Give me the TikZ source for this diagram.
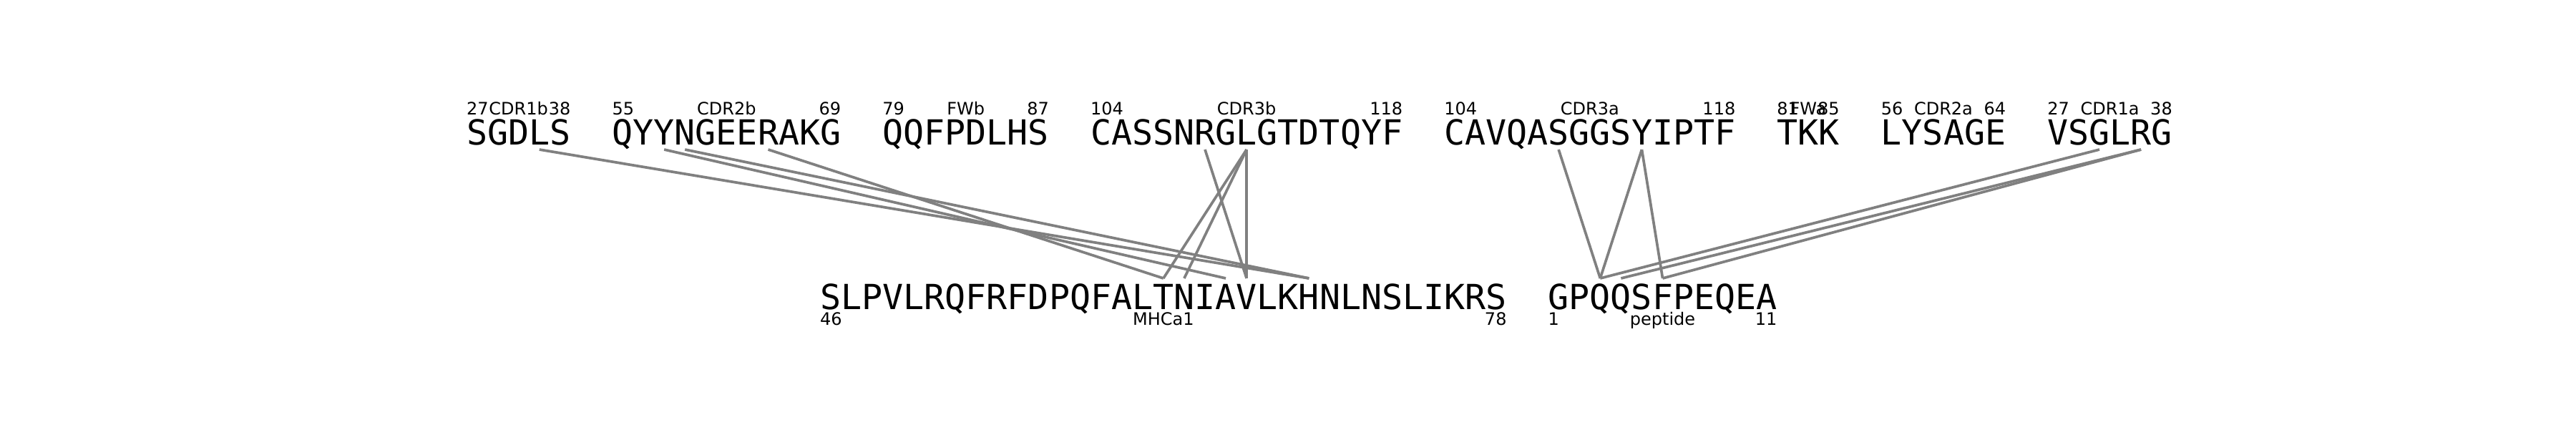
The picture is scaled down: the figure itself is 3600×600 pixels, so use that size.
\documentclass[tikz,border=0pt]{standalone}
\usepackage{fontspec}
\setmainfont{DejaVu Sans}
\newfontfamily\seqfont{DejaVu Sans Mono}
\def\xo{652}
\def\px{29.07}
\tikzset{
  seq/.style={anchor=base west, inner sep=0pt, outer sep=0pt, font=\seqfont\fontsize{48.3}{58}\selectfont},
  lab/.style={inner sep=0pt, outer sep=0pt, font=\fontsize{24}{29}\selectfont},
  link/.style={draw=gray, line width=3.7pt},
}
\newcommand\mkseg[9]{%
  \pgfmathsetmacro\xa{\xo+#2*\px}%
  \pgfmathsetmacro\xb{\xo+#3*\px}%
  \pgfmathsetmacro\xm{(\xa+\xb)/2}%
  \node[seq] (#1) at (\xa,#8) {#4};
  \node[lab,anchor=base west] (#1-a) at (\xa,#9) {#5};
  \node[lab,anchor=base] (#1-n) at (\xm,#9) {#6};
  \node[lab,anchor=base east] (#1-b) at (\xb,#9) {#7};
}
\newcommand\res[3]{\pgfmathsetmacro\xr{\xo+(#2+0.5)*\px}\coordinate (#1) at (\xr,#3);}
\begin{document}
\begin{tikzpicture}[x=1pt,y=-1pt]
\useasboundingbox (0,0) rectangle (3600,600);
% top row
\mkseg{cdrib}{0}{5}{SGDLS}{27}{CDR1b}{38}{202}{160}
\mkseg{cdriib}{7}{18}{QYYNGEERAKG}{55}{CDR2b}{69}{202}{160}
\mkseg{fwb}{20}{28}{QQFPDLHS}{79}{FWb}{87}{202}{160}
\mkseg{cdriiib}{30}{45}{CASSNRGLGTDTQYF}{104}{CDR3b}{118}{202}{160}
\mkseg{cdriiia}{47}{61}{CAVQASGGSYIPTF}{104}{CDR3a}{118}{202}{160}
\mkseg{fwa}{63}{66}{TKK}{81}{FWa}{85}{202}{160}
\mkseg{cdriia}{68}{74}{LYSAGE}{56}{CDR2a}{64}{202}{160}
\mkseg{cdria}{76}{82}{VSGLRG}{27}{CDR1a}{38}{202}{160}
% bottom row
\mkseg{mhc}{17}{50}{SLPVLRQFRFDPQFALTNIAVLKHNLNSLIKRS}{46}{MHCa1}{78}{432}{454}
\mkseg{pep}{52}{63}{GPQQSFPEQEA}{1}{peptide}{11}{432}{454}
% residue anchor points
\res{t3}{3}{209}
\res{t9}{9}{209}
\res{t10}{10}{209}
\res{t14}{14}{209}
\res{t35}{35}{209}
\res{t37}{37}{209}
\res{t52}{52}{209}
\res{t56}{56}{209}
\res{t78}{78}{209}
\res{t80}{80}{209}
\res{b33}{33}{389}
\res{b34}{34}{389}
\res{b36}{36}{389}
\res{b37}{37}{389}
\res{b40}{40}{389}
\res{b54}{54}{389}
\res{b55}{55}{389}
\res{b57}{57}{389}
% contacts
\draw[link] (t3) -- (b40);
\draw[link] (t9) -- (b36);
\draw[link] (t10) -- (b40);
\draw[link] (t14) -- (b33);
\draw[link] (t35) -- (b37);
\draw[link] (t37) -- (b33);
\draw[link] (t37) -- (b34);
\draw[link] (t37) -- (b37);
\draw[link] (t52) -- (b54);
\draw[link] (t56) -- (b54);
\draw[link] (t56) -- (b57);
\draw[link] (t78) -- (b54);
\draw[link] (t80) -- (b55);
\draw[link] (t80) -- (b57);
\end{tikzpicture}
\end{document}
